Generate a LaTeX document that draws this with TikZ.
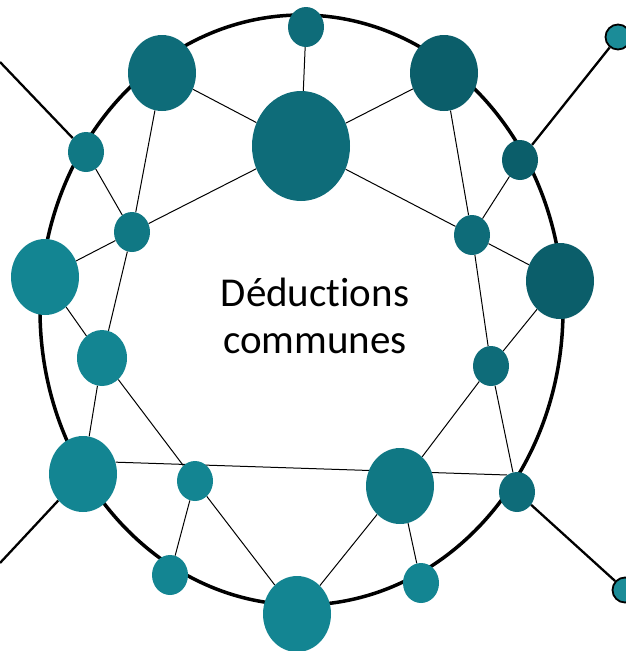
\documentclass[tikz,border=0pt]{standalone}
\usepackage{fontspec}
\setmainfont[Ligatures=NoCommon]{Carlito}
\usepackage{tikz}
\usetikzlibrary{shapes.geometric,backgrounds}
\definecolor{tealL}{HTML}{138592}
\definecolor{tealM}{HTML}{107884}
\definecolor{tealD}{HTML}{0E6C79}
\definecolor{tealX}{HTML}{0B5E6A}
\definecolor{tealT}{HTML}{1B8C98}

\begin{document}
\begin{tikzpicture}[
  x=1pt, y=-1pt,
  dot/.style={ellipse, inner sep=0pt, draw=none, fill=tealL},
  sdot/.style={dot, minimum width=36pt, minimum height=40pt},
  mdot/.style={dot, minimum width=50pt, minimum height=56pt},
  bdot/.style={dot, minimum width=68pt, minimum height=76pt},
  hdot/.style={dot, minimum width=98pt, minimum height=110pt},
  tipdot/.style={circle, draw, line width=1.8pt, fill=tealT, minimum size=25pt, inner sep=0pt},
  link/.style={line width=1pt},
  spoke/.style={line width=2.3pt},
  ring/.style={line width=3.5pt}
]
\useasboundingbox (0,0) rectangle (626,651);
\clip (0,0) rectangle (626,651);

% nodes
\node[sdot, fill=tealD] (top) at (306,27) {};
\node[bdot, fill=tealD] (tl) at (162,73) {};
\node[hdot, fill=tealD] (hub) at (301,146) {};
\node[bdot, fill=tealX] (tr) at (444,73) {};
\node[sdot, fill=tealM] (lout) at (86,152) {};
\node[sdot, fill=tealM] (lin) at (132,232) {};
\node[bdot] (lbig) at (45,277) {};
\node[sdot, fill=tealX] (rout) at (520,160) {};
\node[sdot, fill=tealD] (rin) at (472,235) {};
\node[bdot, fill=tealX] (rbig) at (560,281) {};
\node[mdot] (lmid) at (102,358) {};
\node[sdot, fill=tealD] (rmid) at (491,366) {};
\node[bdot] (blbig) at (83,474) {};
\node[sdot] (bin) at (195,481) {};
\node[bdot, fill=tealM] (brbig) at (400,486) {};
\node[sdot, fill=tealD] (brsmall) at (517,492) {};
\node[sdot] (bls) at (170,575) {};
\node[bdot] (bot) at (297,614) {};
\node[sdot] (brs) at (421,583) {};
\node[tipdot] (tip1) at (618,37) {};
\node[tipdot] (tip2) at (625,590) {};
\coordinate (endTL) at (0,62);
\coordinate (endBL) at (0,563);

\node[font=\fontsize{41}{47}\selectfont, align=center] (label) at (315,316) {Déductions\\communes};

\begin{scope}[on background layer]
\draw[ring] (301.5,310) ellipse [x radius=261.5, y radius=295];
\draw[link] (top) -- (hub);
\draw[link] (tl) -- (hub);
\draw[link] (hub) -- (tr);
\draw[link] (hub) -- (lin);
\draw[link] (hub) -- (rin);
\draw[link] (tl) -- (lin);
\draw[link] (lout) -- (lin);
\draw[link] (lin) -- (lbig);
\draw[link] (lin) -- (lmid);
\draw[link] (lbig) -- (lmid);
\draw[link] (lmid) -- (blbig);
\draw[link] (lmid) -- (bin);
\draw[link] (blbig.20) -- (brsmall.120);
\draw[link] (bin) -- (bls);
\draw[link] (bin) -- (bot);
\draw[link] (bot) -- (brbig);
\draw[link] (brbig) -- (brs);
\draw[link] (brbig) -- (rmid);
\draw[link] (rmid) -- (brsmall);
\draw[link] (rmid) -- (rbig);
\draw[link] (rin) -- (rmid);
\draw[link] (rin) -- (rbig);
\draw[link] (rin) -- (rout);
\draw[link] (tr) -- (rin);
\draw[spoke] (endTL) -- (lout);
\draw[spoke] (rout) -- (tip1);
\draw[spoke] (brsmall) -- (tip2);
\draw[spoke] (blbig) -- (endBL);
\end{scope}
\end{tikzpicture}
\end{document}
